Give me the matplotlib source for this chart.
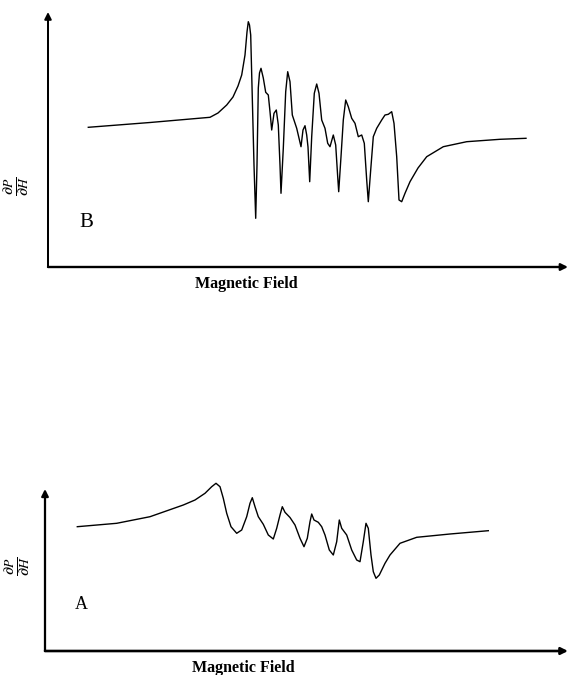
import matplotlib.pyplot as plt
import numpy as np

# spectrum B: field position and derivative signal (arbitrary units)
field_b = [40.3, 102, 162, 170, 178.7, 185, 190, 193.7, 197, 199, 200.3, 201.5,
           202.7, 204.3, 206, 207.7, 209, 210.3, 211.5, 213, 215.3, 217.7, 220.3, 222,
           223.7, 226, 228.3, 230.3, 232, 233, 235.3, 237.7, 239.7, 242, 244.3, 248.7,
           253, 255, 257, 258.7, 260, 261.7, 263.7, 266.3, 268.7, 271, 273.7, 277,
           279.7, 282, 285.3, 287.7, 289.7, 290.7, 293, 295.3, 297.7, 300.3, 303.7, 307,
           310.3, 313.7, 316.3, 318.7, 320.3, 322.7, 325.3, 328.7, 333.7, 337, 340.3, 343.7,
           346, 348.7, 351, 353.7, 357, 362, 370, 378.7, 395.3, 418.7, 452, 478]
sig_b = [139.7, 144.5, 149.7, 154, 162, 170, 181, 192, 212, 235, 245.3, 242,
         232, 169, 102, 48.7, 102, 179, 194, 198.7, 189, 174.7, 172, 155.3,
         137, 153.7, 157, 142, 102, 73.7, 118.7, 175.3, 195.3, 185.3, 152, 138.7,
         120.3, 137, 141.3, 132, 120, 85.3, 130.3, 173.7, 183, 173.7, 147, 138.7,
         123.7, 120.3, 132, 122, 90.3, 75.3, 110.3, 147, 167, 160.3, 148.7, 143.7,
         130.3, 132, 123.7, 87, 65.3, 97, 130.3, 138.7, 147, 152, 152.7, 155.3,
         143.7, 110.3, 67, 65.3, 73.7, 85.3, 99, 110.3, 120.3, 125.3, 127.7, 128.7]

# spectrum A: field position and derivative signal (arbitrary units)
field_a = [32.3, 71.7, 105, 138.3, 150, 160, 166.7, 171, 175, 178.3, 181.7, 186,
           191.7, 196.7, 201.7, 205, 207.3, 210, 213.3, 218.3, 223.3, 228.3, 231.7, 235,
           237.3, 240, 245, 250, 255, 259, 262.3, 265, 266.7, 269, 273.3, 276.7,
           280, 284.3, 288.3, 291.7, 294.3, 296.7, 301.7, 306.7, 311.7, 315, 318.3, 321,
           323.3, 326, 328.3, 331, 334.3, 340, 345, 355, 371.7, 405, 443.3]
sig_a = [124.3, 127.7, 134.3, 146, 151, 157.7, 164.3, 167.7, 164.3, 152.7, 137.7, 124.3,
         117.7, 121, 134.3, 147.7, 153.3, 144.3, 134.3, 126.7, 116, 112, 122.7, 136,
         144.3, 138.7, 133.5, 126, 112.7, 104.3, 112.7, 129.3, 137, 131, 128.7, 124.3,
         116, 101, 96, 109.3, 131, 122.7, 116, 101, 91, 89.3, 109.3, 127.7,
         122.7, 96, 79.3, 72.7, 76, 87.7, 96, 107.7, 113.7, 117, 120.3]

plt.rcParams['font.family'] = ['Liberation Serif', 'DejaVu Serif']
plt.rcParams['mathtext.fontset'] = 'stix'

fig = plt.figure(figsize=(5.69, 6.75), dpi=100)
ax_b = fig.add_axes([48 / 569, 408 / 675, 520 / 569, 255 / 675])
ax_a = fig.add_axes([45 / 569, 24 / 675, 523 / 569, 162 / 675])


def draw_panel(ax, field, sig, xmax, ymax, letter, letter_pos, letter_size,
               label_pos, title_pos, axis_lw):
    ax.plot(field, sig, color='black', lw=1.0, solid_joinstyle='round', clip_on=False)
    ax.set_xlim(0, xmax)
    ax.set_ylim(0, ymax)
    ax.axis('off')
    # arrow-tipped axes
    ax.annotate('', xy=(1.0, 0), xytext=(0, 0), xycoords='axes fraction',
                arrowprops=dict(arrowstyle='-|>', color='black', lw=axis_lw,
                                mutation_scale=10, shrinkA=0, shrinkB=0))
    ax.annotate('', xy=(0, 1.0), xytext=(0, 0), xycoords='axes fraction',
                arrowprops=dict(arrowstyle='-|>', color='black', lw=axis_lw * 0.85,
                                mutation_scale=10, shrinkA=0, shrinkB=0))
    ax.text(title_pos[0], title_pos[1], 'Magnetic Field', transform=ax.transAxes,
            ha='center', va='top', fontsize=11.5, fontweight='bold')
    ax.text(letter_pos[0], letter_pos[1], letter, transform=ax.transAxes,
            fontsize=letter_size, ha='left', va='center')
    ax.text(label_pos[0], label_pos[1], r'$\mathbf{\frac{\partial \mathit{P}}{\partial \mathit{H}}}$',
            transform=ax.transAxes, rotation=90, ha='center', va='center', fontsize=14)


draw_panel(ax_b, field_b, sig_b, 520, 255, 'B', (0.06, 0.176), 15,
           (-0.0587, 0.318), (0.382, -0.035), 1.7)
draw_panel(ax_a, field_a, sig_a, 523, 162, 'A', (0.057, 0.284), 13,
           (-0.0516, 0.522), (0.38, -0.056), 1.9)

fig.savefig('out.png', dpi=100, facecolor='white')
